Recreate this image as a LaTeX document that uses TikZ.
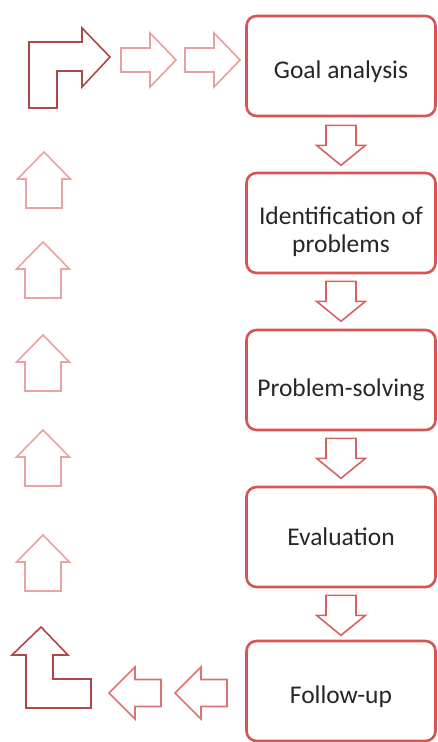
\documentclass[tikz,border=0pt]{standalone}
\usepackage{fontspec}
\setmainfont{Carlito}
\begin{document}
\begin{tikzpicture}[x=1pt,y=-1pt,
  stepbox/.style={draw=boxred, line width=2.6pt, rounded corners=10pt,
    minimum width=189pt, minimum height=100pt, inner sep=0pt},
  steptext/.style={inner sep=0pt, align=center, text=black!85,
    font=\fontsize{25.5}{28.5}\selectfont},
  blockarrow/.style={draw=#1, line width=1.6pt, line join=miter, fill=white},
  downarrow/.pic={\draw[blockarrow=downred] (-15,0) -- (15,0) -- (15,20) -- (24.5,20)
      -- (0,40) -- (-24.5,20) -- (-15,20) -- cycle;},
  uparrow/.pic={\draw[blockarrow=uppink] (0,0) -- (26.5,27) -- (18,27) -- (18,56)
      -- (-18,56) -- (-18,27) -- (-26.5,27) -- cycle;},
  rightarrow/.pic={\draw[blockarrow=sidepink] (0,-12) -- (29,-12) -- (29,-27) -- (55,0)
      -- (29,27) -- (29,12) -- (0,12) -- cycle;},
  leftarrow/.pic={\draw[blockarrow=sidered] (0,-13.5) -- (-26,-13.5) -- (-26,-26) -- (-52,0)
      -- (-26,26) -- (-26,13.5) -- (0,13.5) -- cycle;}
]
\definecolor{boxred}{HTML}{D65454}
\definecolor{downred}{HTML}{D86262}
\definecolor{uppink}{HTML}{E9A3A3}
\definecolor{sidepink}{HTML}{E6A0A0}
\definecolor{sidered}{HTML}{DC7272}
\definecolor{bentred}{HTML}{AE4747}

\useasboundingbox (0,0) rectangle (438,742);

% process steps
\node[stepbox] (goal)   at (341,66)  {};
\node[stepbox] (ident)  at (341,223) {};
\node[stepbox] (solve)  at (341,380) {};
\node[stepbox] (eval)   at (341,537) {};
\node[stepbox] (follow) at (341,691) {};

\node[steptext] (goal-t)   at ([yshift=-6pt]goal.center)    {Goal analysis};
\node[steptext] (ident-t)  at ([yshift=-8.5pt]ident.center) {Identification of\\problems};
\node[steptext] (solve-t)  at ([yshift=-10pt]solve.center)  {Problem-solving};
\node[steptext] (eval-t)   at ([yshift=0.5pt]eval.center)   {Evaluation};
\node[steptext] (follow-t) at ([yshift=-6pt]follow.center)  {Follow-up};

% downward arrows between the steps
\pic at ([yshift=-8pt]goal.south)  {downarrow};
\pic at ([yshift=-7pt]ident.south) {downarrow};
\pic at ([yshift=-7pt]solve.south) {downarrow};
\pic at ([yshift=-7pt]eval.south)  {downarrow};

% return path on the left
\pic at (161,693) {leftarrow};
\pic at (227,693) {leftarrow};

\draw[blockarrow=bentred] (41,627) -- (68,655) -- (53,655) -- (53,679) -- (91,679)
  -- (91,708) -- (26,708) -- (26,655) -- (12,655) -- cycle;

\pic at (43,535) {uparrow};
\pic at (43,430) {uparrow};
\pic at (43,335) {uparrow};
\pic at (43,242) {uparrow};
\pic at (44,152) {uparrow};

\draw[blockarrow=bentred] (29,108) -- (29,42) -- (82,42) -- (82,28) -- (110,57)
  -- (82,87) -- (82,71) -- (57,71) -- (57,108) -- cycle;

\pic at (121,60) {rightarrow};
\pic at (185,60) {rightarrow};
\end{tikzpicture}
\end{document}
